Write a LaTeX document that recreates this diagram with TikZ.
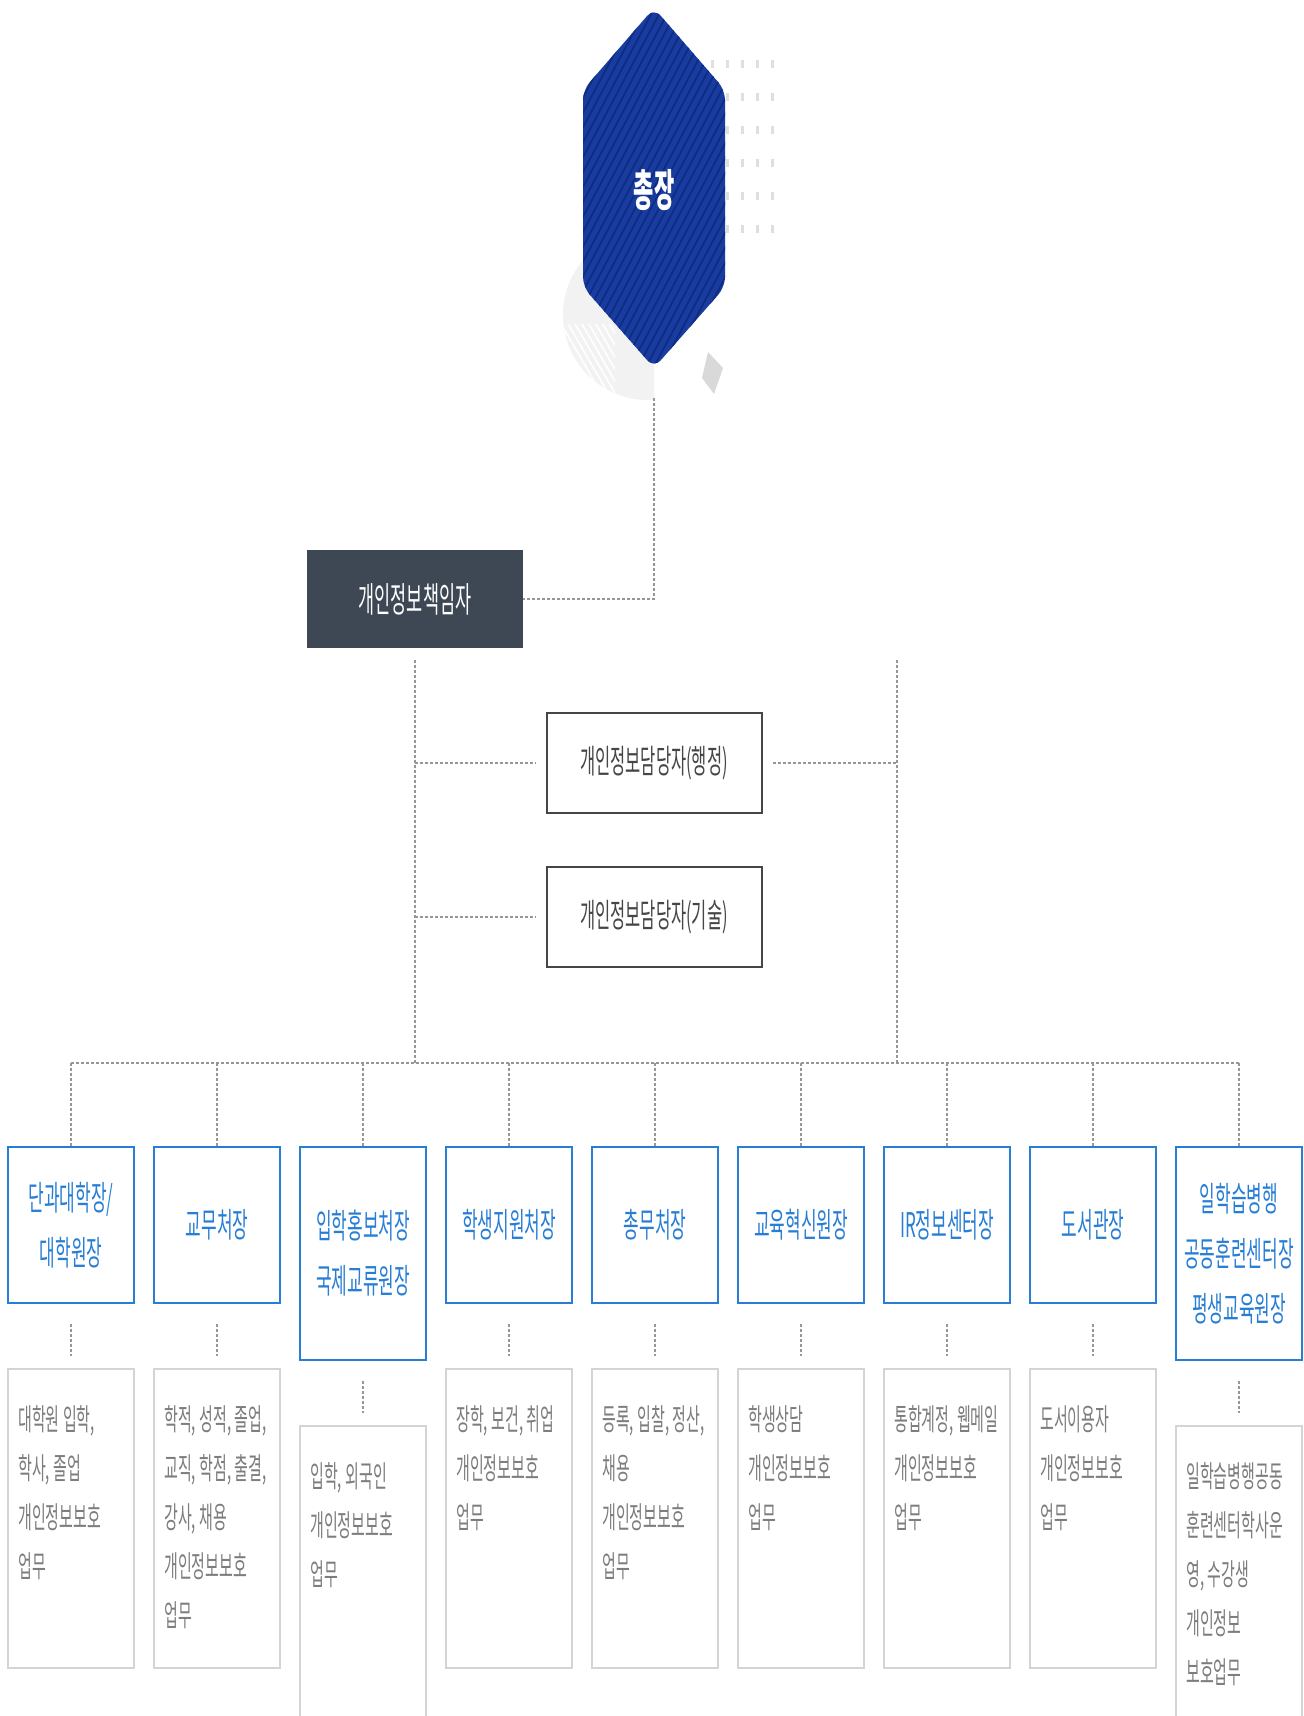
\documentclass[tikz,border=0pt]{standalone}
\usepackage{fontspec}
\setmainfont{Noto Sans CJK KR}[FakeStretch=0.5]
\usetikzlibrary{patterns.meta}
\definecolor{hexblue}{RGB}{24,60,160}
\definecolor{hexline}{RGB}{16,44,130}
\definecolor{slate}{RGB}{62,72,84}
\definecolor{headblue}{RGB}{40,126,212}
\definecolor{darkline}{RGB}{70,70,70}
\definecolor{graytext}{RGB}{125,125,125}
\definecolor{boxgray}{RGB}{212,212,212}
\definecolor{linkgray}{RGB}{150,150,150}

\begin{document}
\begin{tikzpicture}[x=0.5pt, y=-0.5pt,
    link/.style={draw=linkgray, line width=0.6pt, dash pattern=on 1.5pt off 1pt},
    respbox/.style={fill=slate, text=white, minimum width=108pt, minimum height=49pt, font=\fontsize{17.5}{20}\selectfont},
    staffbox/.style={draw=darkline, line width=1pt, minimum width=107.5pt, minimum height=50pt, text=darkline, font=\fontsize{16.5}{20}\selectfont},
    headbox/.style={draw=headblue, line width=0.9pt, fill=white, anchor=north, minimum width=63pt, minimum height=78pt, text=headblue, align=center, font=\fontsize{17}{27.5}\selectfont},
    descbox/.style={draw=boxgray, line width=1.1pt, anchor=north, minimum width=63pt, minimum height=149.5pt},
    desc/.style={anchor=north west, inner sep=0pt, text=graytext, align=left, font=\fontsize{15}{24.5}\selectfont}]
  \fill[white] (0,0) rectangle (1303,1716);
  \useasboundingbox (0,0) rectangle (1303,1716);

  % decoration behind the president
  \begin{scope}
    \clip (540,200) rectangle (654,440);
    \fill[gray!10] (648,315) circle[radius=42.5pt];
    \clip (648,315) circle[radius=42.5pt];
    \fill[pattern={Lines[angle=-60,distance=3pt,line width=0.8pt]}, pattern color=white] (555,325) rectangle (615,425);
  \end{scope}
  \foreach \y in {60,93,126,159,192,225}
    \foreach \x in {711,726,741,756,771}
      \fill[gray!25] (\x,\y) rectangle ++(2.5,8);
  \fill[gray!30] (708,352) -- (723,368) -- (714,394) -- (702,378) -- cycle;

  % president
  \fill[hexblue, rounded corners=5pt] (654,8) -- (725,90) -- (725,287) -- (654,368) -- (583,287) -- (583,90) -- cycle;
  \fill[pattern={Lines[angle=62,distance=3.5pt,line width=0.9pt]}, pattern color=hexline, rounded corners=5pt] (654,8) -- (725,90) -- (725,287) -- (654,368) -- (583,287) -- (583,90) -- cycle;
  \node[text=white, font=\fontsize{22}{24}\selectfont\bfseries] (pres) at (654,190) {총장};
  \coordinate (presbot) at (654,368);

  % officers
  \node[respbox] (resp) at (415,599) {개인정보책임자};
  \node[staffbox] (staff1) at (654,763) {개인정보담당자(행정)};
  \node[staffbox] (staff2) at (654,917) {개인정보담당자(기술)};

  \coordinate (busL) at (71,1063);
  \coordinate (busR) at (1239,1063);
  \coordinate (rtop) at (897,660);

  \draw[link, shorten <=15pt] (presbot) |- (resp.east);
  \draw[link, shorten <=6pt] (resp.south) -- (resp.south |- busL);
  \draw[link] (rtop) -- (rtop |- busL);
  \draw[link, shorten >=5pt] (resp.south |- staff1.west) -- (staff1.west);
  \draw[link, shorten <=5pt] (staff1.east) -- (staff1.east -| rtop);
  \draw[link, shorten >=5pt] (resp.south |- staff2.west) -- (staff2.west);
  \draw[link] (busL) -- (busR);

  % heads
  \node[headbox] (h1) at (71,1146) {단과대학장/\\대학원장};
  \node[headbox] (h2) at (217,1146) {교무처장};
  \node[headbox, minimum height=106.5pt] (h3) at (363,1146) {입학홍보처장\\국제교류원장};
  \node[headbox] (h4) at (509,1146) {학생지원처장};
  \node[headbox] (h5) at (655,1146) {총무처장};
  \node[headbox] (h6) at (801,1146) {교육혁신원장};
  \node[headbox] (h7) at (947,1146) {IR정보센터장};
  \node[headbox] (h8) at (1093,1146) {도서관장};
  \node[headbox, minimum height=106.5pt] (h9) at (1239,1146) {일학습병행\\공동훈련센터장\\평생교육원장};

  \draw[link] (h1.north |- busL) -- (h1.north);
  \draw[link] (h2.north |- busL) -- (h2.north);
  \draw[link] (h3.north |- busL) -- (h3.north);
  \draw[link] (h4.north |- busL) -- (h4.north);
  \draw[link] (h5.north |- busL) -- (h5.north);
  \draw[link] (h6.north |- busL) -- (h6.north);
  \draw[link] (h7.north |- busL) -- (h7.north);
  \draw[link] (h8.north |- busL) -- (h8.north);
  \draw[link] (h9.north |- busL) -- (h9.north);

  % duties
  \node[descbox] (d1) at (71,1368) {};
  \node[descbox] (d2) at (217,1368) {};
  \node[descbox, minimum height=170pt] (d3) at (363,1425) {};
  \node[descbox] (d4) at (509,1368) {};
  \node[descbox] (d5) at (655,1368) {};
  \node[descbox] (d6) at (801,1368) {};
  \node[descbox] (d7) at (947,1368) {};
  \node[descbox] (d8) at (1093,1368) {};
  \node[descbox, minimum height=170pt] (d9) at (1239,1425) {};

  \draw[link, shorten <=10pt, shorten >=6pt] (h1.south) -- (d1.north);
  \draw[link, shorten <=10pt, shorten >=6pt] (h2.south) -- (d2.north);
  \draw[link, shorten <=10pt, shorten >=6pt] (h3.south) -- (d3.north);
  \draw[link, shorten <=10pt, shorten >=6pt] (h4.south) -- (d4.north);
  \draw[link, shorten <=10pt, shorten >=6pt] (h5.south) -- (d5.north);
  \draw[link, shorten <=10pt, shorten >=6pt] (h6.south) -- (d6.north);
  \draw[link, shorten <=10pt, shorten >=6pt] (h7.south) -- (d7.north);
  \draw[link, shorten <=10pt, shorten >=6pt] (h8.south) -- (d8.north);
  \draw[link, shorten <=10pt, shorten >=6pt] (h9.south) -- (d9.north);

  \node[desc] (t1) at ([shift={(11,37)}]d1.north west) {대학원 입학,\\학사, 졸업\\개인정보보호\\업무};
  \node[desc] (t2) at ([shift={(11,37)}]d2.north west) {학적, 성적, 졸업,\\교직, 학점, 출결,\\강사, 채용\\개인정보보호\\업무};
  \node[desc] (t3) at ([shift={(11,37)}]d3.north west) {입학, 외국인\\개인정보보호\\업무};
  \node[desc] (t4) at ([shift={(11,37)}]d4.north west) {장학, 보건, 취업\\개인정보보호\\업무};
  \node[desc] (t5) at ([shift={(11,37)}]d5.north west) {등록, 입찰, 정산,\\채용\\개인정보보호\\업무};
  \node[desc] (t6) at ([shift={(11,37)}]d6.north west) {학생상담\\개인정보보호\\업무};
  \node[desc] (t7) at ([shift={(11,37)}]d7.north west) {통합계정, 웹메일\\개인정보보호\\업무};
  \node[desc] (t8) at ([shift={(11,37)}]d8.north west) {도서이용자\\개인정보보호\\업무};
  \node[desc] (t9) at ([shift={(11,37)}]d9.north west) {일학습병행공동\\훈련센터학사운\\영, 수강생\\개인정보\\보호업무};
\end{tikzpicture}
\end{document}
